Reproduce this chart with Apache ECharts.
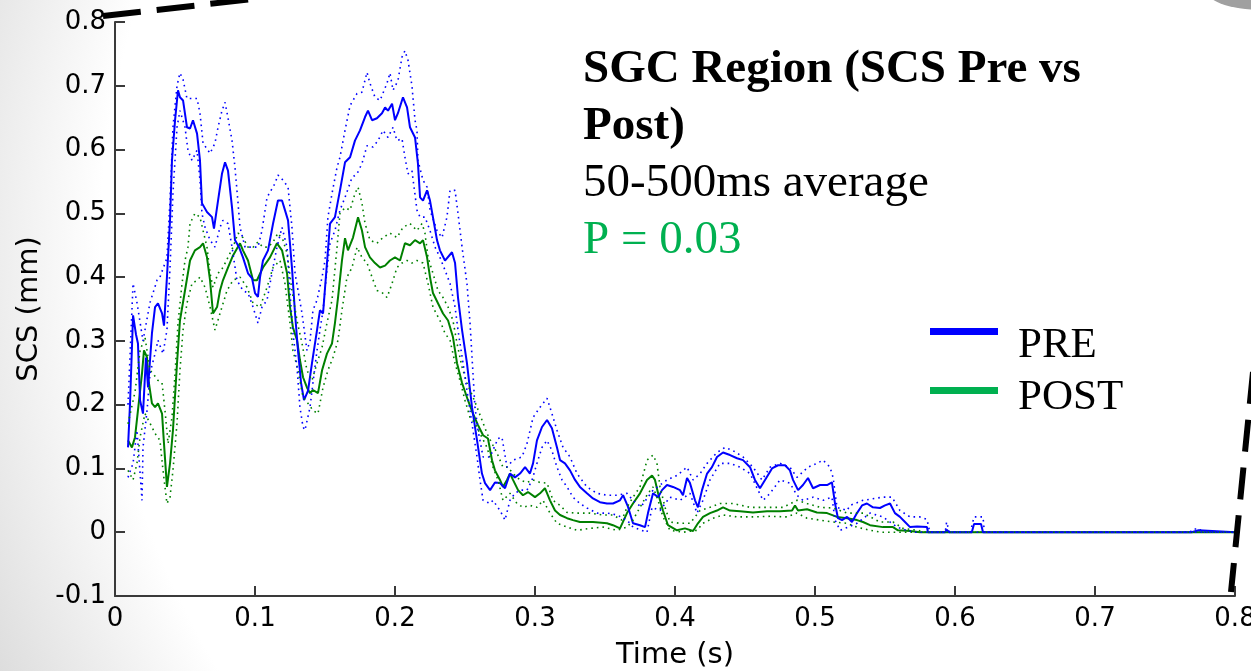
<!DOCTYPE html>
<html><head><meta charset="utf-8">
<script src="https://cdn.jsdelivr.net/npm/echarts@6/dist/echarts.min.js"></script>
<style>html,body{margin:0;padding:0;background:#fff}#c{width:1251px;height:671px}</style>
</head><body><div id="c"></div>
<script>
// ---- data: [time (s), SCS (mm)] ----
const preMean = [[0.0093,0.133],[0.0107,0.20],[0.0129,0.34],[0.015,0.31],[0.0164,0.296],[0.0179,0.207],[0.020,0.186],[0.0221,0.274],[0.0236,0.227],[0.0264,0.312],[0.0286,0.353],[0.0307,0.359],[0.0336,0.343],[0.035,0.324],[0.0371,0.40],[0.0393,0.489],[0.0407,0.583],[0.0429,0.646],[0.045,0.693],[0.0464,0.682],[0.0486,0.677],[0.0514,0.635],[0.0536,0.633],[0.0557,0.646],[0.0586,0.625],[0.0607,0.583],[0.0621,0.516],[0.0657,0.502],[0.0693,0.494],[0.0707,0.476],[0.0736,0.52],[0.0764,0.562],[0.0786,0.58],[0.0807,0.567],[0.0836,0.509],[0.0857,0.458],[0.0886,0.447],[0.0914,0.431],[0.095,0.406],[0.0979,0.398],[0.1,0.375],[0.1021,0.369],[0.1036,0.40],[0.1057,0.426],[0.1093,0.442],[0.1129,0.484],[0.1164,0.52],[0.1193,0.52],[0.1214,0.505],[0.1236,0.489],[0.1264,0.415],[0.1286,0.343],[0.1307,0.285],[0.1329,0.234],[0.135,0.207],[0.1379,0.222],[0.1407,0.265],[0.1443,0.317],[0.1464,0.348],[0.1486,0.343],[0.1514,0.422],[0.1536,0.484],[0.1571,0.494],[0.1607,0.536],[0.1643,0.58],[0.1679,0.588],[0.1714,0.614],[0.175,0.63],[0.1786,0.651],[0.1807,0.661],[0.1836,0.646],[0.1871,0.649],[0.1907,0.657],[0.1929,0.666],[0.195,0.661],[0.1979,0.672],[0.2,0.646],[0.2021,0.657],[0.2057,0.682],[0.2086,0.666],[0.2107,0.635],[0.2143,0.619],[0.2164,0.578],[0.2179,0.525],[0.22,0.52],[0.2229,0.536],[0.225,0.52],[0.2271,0.494],[0.23,0.458],[0.2321,0.442],[0.2357,0.426],[0.2407,0.439],[0.2429,0.422],[0.245,0.368],[0.2479,0.317],[0.2514,0.265],[0.255,0.196],[0.2586,0.144],[0.2621,0.092],[0.2643,0.077],[0.2679,0.066],[0.2714,0.078],[0.275,0.077],[0.2786,0.069],[0.2821,0.092],[0.2857,0.086],[0.2893,0.092],[0.2929,0.102],[0.2964,0.092],[0.2986,0.108],[0.3014,0.144],[0.305,0.165],[0.3086,0.176],[0.3121,0.163],[0.3157,0.133],[0.3179,0.113],[0.3214,0.108],[0.325,0.097],[0.3286,0.082],[0.3321,0.071],[0.3371,0.061],[0.3414,0.053],[0.3464,0.047],[0.3514,0.045],[0.3557,0.045],[0.3607,0.05],[0.3629,0.058],[0.3664,0.04],[0.37,0.014],[0.375,0.011],[0.3786,0.008],[0.3807,0.03],[0.3843,0.061],[0.3879,0.055],[0.3907,0.066],[0.3943,0.074],[0.3986,0.071],[0.4036,0.066],[0.4057,0.058],[0.4086,0.085],[0.4107,0.077],[0.4143,0.05],[0.4164,0.039],[0.4193,0.066],[0.4229,0.092],[0.4264,0.102],[0.43,0.118],[0.4343,0.125],[0.4393,0.121],[0.4443,0.116],[0.4486,0.113],[0.4536,0.102],[0.4571,0.082],[0.4607,0.069],[0.4643,0.082],[0.4693,0.1],[0.4736,0.105],[0.4786,0.105],[0.4821,0.097],[0.4843,0.082],[0.4879,0.066],[0.4914,0.074],[0.495,0.085],[0.4986,0.069],[0.5036,0.074],[0.5086,0.074],[0.5121,0.078],[0.5143,0.045],[0.5164,0.022],[0.5193,0.019],[0.5229,0.024],[0.5264,0.016],[0.53,0.03],[0.5336,0.042],[0.5371,0.045],[0.5414,0.039],[0.5464,0.038],[0.55,0.042],[0.5536,0.045],[0.5571,0.03],[0.5607,0.024],[0.5643,0.016],[0.5679,0.008],[0.5729,0.009],[0.58,0.008],[0.5807,0],[0.593,0],[0.594,0.004],[0.596,0],[0.612,0],[0.6136,0.013],[0.6186,0.013],[0.62,0],[0.769,0],[0.77,0.003],[0.774,0.003],[0.775,0],[0.8,0]];

const preUpper = [[0.0093,0.20],[0.0129,0.39],[0.0157,0.36],[0.02,0.30],[0.025,0.36],[0.03,0.395],[0.0321,0.40],[0.0371,0.43],[0.0393,0.52],[0.0414,0.635],[0.0443,0.70],[0.0464,0.72],[0.0486,0.71],[0.0514,0.68],[0.0557,0.68],[0.0586,0.68],[0.0607,0.657],[0.0629,0.61],[0.0679,0.594],[0.0714,0.61],[0.0736,0.635],[0.0764,0.661],[0.0786,0.674],[0.0807,0.65],[0.0836,0.614],[0.0857,0.572],[0.0879,0.516],[0.0893,0.478],[0.0929,0.447],[0.0979,0.447],[0.1021,0.447],[0.105,0.473],[0.1086,0.525],[0.1107,0.533],[0.1143,0.547],[0.1164,0.56],[0.12,0.552],[0.1236,0.541],[0.1264,0.478],[0.1286,0.406],[0.1336,0.343],[0.1371,0.285],[0.1393,0.30],[0.1414,0.348],[0.1443,0.364],[0.1479,0.40],[0.15,0.426],[0.1521,0.494],[0.155,0.531],[0.1586,0.572],[0.1607,0.588],[0.1643,0.63],[0.1679,0.669],[0.1729,0.688],[0.1764,0.69],[0.18,0.721],[0.1821,0.704],[0.1857,0.682],[0.1893,0.677],[0.1943,0.704],[0.1964,0.72],[0.1986,0.693],[0.2021,0.708],[0.205,0.745],[0.2071,0.755],[0.2093,0.74],[0.2121,0.70],[0.2143,0.646],[0.2157,0.63],[0.2164,0.583],[0.22,0.552],[0.2229,0.541],[0.225,0.505],[0.23,0.473],[0.2336,0.462],[0.2371,0.494],[0.2393,0.536],[0.2429,0.536],[0.245,0.50],[0.2479,0.447],[0.2514,0.39],[0.2536,0.328],[0.2557,0.249],[0.2571,0.196],[0.2593,0.16],[0.2629,0.118],[0.2679,0.118],[0.2736,0.147],[0.2764,0.149],[0.28,0.102],[0.2843,0.113],[0.2907,0.118],[0.2943,0.139],[0.2986,0.18],[0.3036,0.196],[0.3086,0.21],[0.3121,0.186],[0.3157,0.16],[0.32,0.133],[0.325,0.118],[0.33,0.092],[0.3371,0.071],[0.3443,0.061],[0.3514,0.058],[0.3586,0.058],[0.3657,0.061],[0.37,0.05],[0.3757,0.04],[0.3843,0.066],[0.3943,0.082],[0.4014,0.089],[0.4086,0.102],[0.4129,0.082],[0.4179,0.092],[0.4229,0.108],[0.43,0.125],[0.4357,0.133],[0.4414,0.128],[0.4486,0.118],[0.4557,0.102],[0.4621,0.082],[0.4679,0.102],[0.475,0.108],[0.4821,0.102],[0.4871,0.086],[0.495,0.102],[0.5014,0.108],[0.5057,0.113],[0.5107,0.102],[0.5129,0.086],[0.5157,0.039],[0.5229,0.034],[0.525,0.042],[0.5343,0.05],[0.5486,0.055],[0.555,0.055],[0.5607,0.034],[0.5679,0.024],[0.575,0.024],[0.58,0.02],[0.582,0],[0.593,0],[0.594,0.016],[0.596,0],[0.611,0],[0.6136,0.024],[0.62,0.024],[0.621,0],[0.768,0],[0.77,0.005],[0.775,0.005],[0.776,0],[0.8,0]];

const preLower = [[0.0093,0.086],[0.0129,0.108],[0.0157,0.16],[0.0193,0.05],[0.02,0.133],[0.0229,0.191],[0.025,0.249],[0.0286,0.28],[0.0307,0.301],[0.0343,0.28],[0.0371,0.317],[0.0393,0.415],[0.0414,0.531],[0.0443,0.635],[0.0464,0.661],[0.05,0.635],[0.0521,0.599],[0.055,0.583],[0.0586,0.599],[0.0607,0.552],[0.0621,0.50],[0.0643,0.478],[0.0679,0.458],[0.0714,0.447],[0.075,0.478],[0.0771,0.489],[0.0807,0.484],[0.0836,0.447],[0.0871,0.395],[0.0914,0.379],[0.095,0.375],[0.0986,0.353],[0.1021,0.328],[0.105,0.353],[0.1086,0.364],[0.1121,0.406],[0.1157,0.447],[0.1193,0.478],[0.1229,0.447],[0.125,0.375],[0.1271,0.312],[0.13,0.259],[0.1321,0.196],[0.1343,0.165],[0.1357,0.16],[0.1393,0.196],[0.1414,0.234],[0.1443,0.285],[0.1464,0.317],[0.1486,0.348],[0.1514,0.411],[0.1536,0.453],[0.1571,0.473],[0.1607,0.505],[0.1643,0.525],[0.1693,0.556],[0.1729,0.562],[0.1764,0.578],[0.18,0.606],[0.1843,0.604],[0.1879,0.614],[0.1914,0.63],[0.195,0.619],[0.1986,0.635],[0.2014,0.614],[0.205,0.617],[0.2071,0.588],[0.2093,0.562],[0.2121,0.567],[0.2157,0.505],[0.2179,0.494],[0.2214,0.494],[0.225,0.473],[0.2286,0.447],[0.2321,0.431],[0.2357,0.411],[0.2393,0.39],[0.2429,0.353],[0.245,0.317],[0.2486,0.265],[0.2521,0.212],[0.2557,0.16],[0.2586,0.118],[0.2607,0.082],[0.2629,0.05],[0.2679,0.045],[0.27,0.05],[0.275,0.034],[0.2786,0.019],[0.2821,0.05],[0.2857,0.061],[0.2893,0.066],[0.2943,0.066],[0.2979,0.082],[0.3014,0.108],[0.305,0.133],[0.3086,0.144],[0.3121,0.128],[0.3157,0.102],[0.3193,0.082],[0.3229,0.071],[0.3271,0.055],[0.3321,0.045],[0.3371,0.038],[0.3443,0.03],[0.3514,0.03],[0.3586,0.027],[0.3657,0.019],[0.37,0.008],[0.38,0.0],[0.3836,0.039],[0.3893,0.034],[0.3964,0.055],[0.4036,0.05],[0.4107,0.061],[0.4157,0.03],[0.42,0.05],[0.425,0.082],[0.4321,0.108],[0.4393,0.108],[0.4464,0.102],[0.4536,0.092],[0.4593,0.066],[0.4629,0.05],[0.4679,0.061],[0.475,0.082],[0.4821,0.077],[0.4871,0.058],[0.4914,0.05],[0.4986,0.055],[0.5057,0.05],[0.5121,0.055],[0.5143,0.019],[0.5179,0.003],[0.5236,0.008],[0.53,0.014],[0.5393,0.03],[0.5486,0.024],[0.5586,0.008],[0.57,0],[0.8,0]];

const postMean = [[0.0093,0.144],[0.0121,0.133],[0.0143,0.149],[0.0164,0.191],[0.0193,0.249],[0.0207,0.285],[0.0229,0.274],[0.0236,0.243],[0.0264,0.202],[0.0286,0.196],[0.0307,0.202],[0.0336,0.186],[0.035,0.139],[0.0371,0.071],[0.0393,0.108],[0.0414,0.16],[0.0443,0.265],[0.0464,0.332],[0.05,0.379],[0.0536,0.426],[0.0571,0.442],[0.0607,0.447],[0.0629,0.453],[0.0657,0.431],[0.0679,0.395],[0.07,0.343],[0.0729,0.353],[0.075,0.379],[0.0771,0.395],[0.0807,0.415],[0.0843,0.434],[0.0893,0.453],[0.0914,0.442],[0.095,0.426],[0.0986,0.395],[0.1014,0.395],[0.1057,0.415],[0.1107,0.431],[0.1157,0.453],[0.1193,0.442],[0.1229,0.406],[0.125,0.353],[0.1271,0.321],[0.13,0.301],[0.1321,0.27],[0.1343,0.243],[0.1371,0.227],[0.1393,0.218],[0.1414,0.223],[0.145,0.218],[0.1479,0.254],[0.1514,0.28],[0.155,0.296],[0.1571,0.328],[0.1593,0.368],[0.1621,0.426],[0.1643,0.461],[0.1664,0.442],[0.17,0.462],[0.1736,0.494],[0.1764,0.473],[0.1786,0.447],[0.1821,0.431],[0.1857,0.422],[0.1893,0.415],[0.1929,0.418],[0.1964,0.426],[0.2,0.431],[0.2036,0.426],[0.2071,0.453],[0.2107,0.45],[0.2143,0.458],[0.2179,0.453],[0.22,0.458],[0.2229,0.431],[0.225,0.40],[0.2271,0.375],[0.2307,0.359],[0.2343,0.343],[0.2379,0.332],[0.2414,0.306],[0.2443,0.265],[0.2479,0.234],[0.2521,0.207],[0.2557,0.186],[0.2593,0.168],[0.2629,0.152],[0.2664,0.147],[0.2693,0.113],[0.2714,0.097],[0.275,0.082],[0.2771,0.071],[0.28,0.082],[0.2821,0.092],[0.2843,0.082],[0.2879,0.066],[0.2914,0.058],[0.295,0.063],[0.30,0.055],[0.3036,0.061],[0.3071,0.069],[0.3107,0.05],[0.3143,0.034],[0.3179,0.027],[0.3229,0.022],[0.3271,0.019],[0.3321,0.016],[0.3414,0.016],[0.3514,0.014],[0.3557,0.011],[0.3607,0.006],[0.3657,0.03],[0.37,0.045],[0.375,0.061],[0.38,0.082],[0.3836,0.089],[0.3857,0.082],[0.3879,0.061],[0.3914,0.034],[0.395,0.011],[0.4014,0.003],[0.4071,0.006],[0.4129,0.002],[0.4164,0.014],[0.42,0.024],[0.425,0.03],[0.43,0.034],[0.4343,0.039],[0.4393,0.034],[0.4464,0.033],[0.4557,0.031],[0.4657,0.033],[0.475,0.033],[0.4836,0.034],[0.4857,0.042],[0.4879,0.034],[0.4943,0.036],[0.5014,0.031],[0.5086,0.03],[0.5157,0.024],[0.5229,0.022],[0.53,0.019],[0.5343,0.016],[0.5393,0.011],[0.5486,0.008],[0.5557,0.008],[0.5593,0.003],[0.5679,0.002],[0.575,0],[0.7,0],[0.701,0.002],[0.703,0],[0.8,0]];

const postUpper = [[0.0093,0.17],[0.0143,0.22],[0.0179,0.285],[0.0214,0.306],[0.025,0.254],[0.0271,0.249],[0.0307,0.238],[0.0336,0.234],[0.0357,0.191],[0.0379,0.139],[0.0407,0.18],[0.0429,0.249],[0.045,0.328],[0.0479,0.39],[0.05,0.426],[0.0521,0.447],[0.0536,0.484],[0.0571,0.50],[0.0607,0.494],[0.0629,0.473],[0.0657,0.447],[0.0679,0.406],[0.07,0.384],[0.0736,0.406],[0.0771,0.415],[0.0807,0.431],[0.0843,0.447],[0.0879,0.469],[0.0914,0.462],[0.095,0.447],[0.0986,0.447],[0.1021,0.455],[0.1057,0.447],[0.1093,0.447],[0.1129,0.455],[0.1164,0.469],[0.12,0.458],[0.1229,0.437],[0.1264,0.379],[0.13,0.332],[0.1336,0.296],[0.1371,0.254],[0.1407,0.238],[0.1443,0.265],[0.1479,0.29],[0.1514,0.328],[0.155,0.364],[0.1586,0.447],[0.1607,0.50],[0.1643,0.509],[0.1679,0.505],[0.1714,0.531],[0.1736,0.541],[0.1764,0.516],[0.1786,0.484],[0.1821,0.458],[0.1871,0.453],[0.1914,0.462],[0.1964,0.469],[0.2014,0.462],[0.2057,0.478],[0.2107,0.484],[0.2157,0.473],[0.2193,0.484],[0.2214,0.469],[0.2236,0.431],[0.2271,0.406],[0.2307,0.379],[0.2343,0.368],[0.2379,0.353],[0.2414,0.332],[0.2443,0.296],[0.2479,0.259],[0.2514,0.234],[0.2557,0.212],[0.2586,0.196],[0.2621,0.176],[0.2657,0.155],[0.2693,0.139],[0.2729,0.124],[0.2771,0.102],[0.2807,0.102],[0.2843,0.092],[0.2893,0.082],[0.2943,0.078],[0.2986,0.082],[0.3036,0.078],[0.3086,0.077],[0.3129,0.05],[0.3179,0.042],[0.3229,0.031],[0.33,0.03],[0.3393,0.03],[0.3486,0.027],[0.3557,0.027],[0.3621,0.019],[0.3657,0.039],[0.37,0.055],[0.375,0.071],[0.38,0.113],[0.3843,0.121],[0.3871,0.108],[0.3893,0.071],[0.3929,0.039],[0.3964,0.016],[0.4036,0.014],[0.4107,0.014],[0.4179,0.034],[0.425,0.039],[0.4321,0.045],[0.4414,0.045],[0.4536,0.039],[0.4657,0.039],[0.4771,0.039],[0.4871,0.05],[0.4943,0.045],[0.5036,0.039],[0.5129,0.038],[0.5229,0.03],[0.5343,0.03],[0.5464,0.016],[0.5557,0.016],[0.5629,0.006],[0.5729,0.003],[0.58,0],[0.8,0]];

const postLower = [[0.0093,0.097],[0.0129,0.082],[0.0157,0.108],[0.0179,0.149],[0.0214,0.186],[0.025,0.171],[0.0286,0.155],[0.0321,0.144],[0.0343,0.097],[0.0371,0.045],[0.0393,0.055],[0.0414,0.097],[0.0443,0.171],[0.0464,0.254],[0.0486,0.317],[0.0514,0.359],[0.055,0.39],[0.0586,0.395],[0.0607,0.40],[0.0643,0.384],[0.0679,0.353],[0.0714,0.317],[0.075,0.343],[0.08,0.379],[0.0843,0.395],[0.0893,0.40],[0.0943,0.384],[0.0986,0.359],[0.1036,0.353],[0.1086,0.384],[0.1129,0.415],[0.1179,0.426],[0.1214,0.39],[0.125,0.328],[0.1271,0.285],[0.1307,0.254],[0.1343,0.212],[0.1379,0.202],[0.1414,0.191],[0.145,0.186],[0.1486,0.227],[0.1521,0.254],[0.1557,0.274],[0.1593,0.301],[0.1621,0.348],[0.1657,0.40],[0.1693,0.415],[0.1729,0.447],[0.1764,0.431],[0.18,0.422],[0.1836,0.40],[0.1871,0.379],[0.1907,0.376],[0.1943,0.368],[0.1979,0.39],[0.2014,0.415],[0.205,0.422],[0.2086,0.426],[0.2121,0.422],[0.2157,0.426],[0.22,0.422],[0.2236,0.39],[0.2271,0.353],[0.2321,0.332],[0.2357,0.312],[0.2393,0.301],[0.2429,0.265],[0.2464,0.238],[0.25,0.207],[0.2536,0.18],[0.2571,0.171],[0.2607,0.155],[0.2657,0.133],[0.27,0.102],[0.2736,0.082],[0.2771,0.05],[0.2821,0.061],[0.2871,0.045],[0.2914,0.039],[0.2964,0.042],[0.3014,0.039],[0.3057,0.05],[0.3107,0.03],[0.3157,0.014],[0.3229,0.008],[0.33,0.003],[0.3393,0.006],[0.3486,0.008],[0.3586,0.003],[0.3657,0.008],[0.37,0.019],[0.375,0.039],[0.3807,0.061],[0.3843,0.071],[0.3879,0.05],[0.3914,0.024],[0.3964,0.003],[0.4057,0],[0.4157,0.003],[0.42,0.014],[0.4271,0.022],[0.4343,0.027],[0.4443,0.024],[0.4557,0.024],[0.4679,0.025],[0.48,0.024],[0.4871,0.03],[0.4943,0.022],[0.5036,0.019],[0.5129,0.016],[0.5229,0.014],[0.53,0.008],[0.5393,0.003],[0.547,0],[0.8,0]];

const xRange = [0, 0.8];
const yRange = [-0.1, 0.8];
const tickStep = 0.1;
const legendNames = ['PRE', 'POST'];
const titleLines = ['SGC Region (SCS Pre vs', 'Post)', '50-500ms average', 'P = 0.03'];

// ---- chart ----
const BLUE = '#0000ff', GREEN = '#008000', LEG_GREEN = '#00b050', AX = '#3a3a3a';
const chart = echarts.init(document.getElementById('c'), null, {renderer: 'canvas'});
const fmt = v => String(Math.round(v * 10) / 10);
function meanSeries(name, data, color) {
  return {name, type: 'line', data, showSymbol: false, symbol: 'none', z: 3,
    lineStyle: {color, width: 2}, itemStyle: {color}};
}
function boundSeries(name, data, color) {
  return {name, type: 'line', data, showSymbol: false, symbol: 'none', z: 4,
    lineStyle: {color, width: 1.6, type: [1.6, 4]}, itemStyle: {color}};
}
const axisFont = {fontFamily: 'DejaVu Sans', fontSize: 26, color: '#000'};
const serif = 'Liberation Serif';
chart.setOption({
  animation: false,
  grid: {left: 115, right: 16, top: 22, bottom: 75, containLabel: false, outerBoundsMode: 'none'},
  title: {
    left: 578, top: 36,
    text: '{b|' + titleLines[0] + '}\n{b|' + titleLines[1] + '}\n{n|' + titleLines[2] + '}\n{g|' + titleLines[3] + '}',
    textStyle: {fontWeight: 'normal', rich: {
      b: {fontFamily: serif, fontWeight: 'bold', fontSize: 47, lineHeight: 57, color: '#000'},
      n: {fontFamily: serif, fontWeight: 'normal', fontSize: 47, lineHeight: 57, color: '#000'},
      g: {fontFamily: serif, fontWeight: 'normal', fontSize: 47, lineHeight: 57, color: LEG_GREEN}
    }}
  },
  xAxis: {
    type: 'value', min: xRange[0], max: xRange[1], interval: tickStep,
    name: 'Time (s)', nameLocation: 'middle', nameGap: 45,
    nameTextStyle: {fontFamily: 'DejaVu Sans', fontSize: 29, color: '#000'},
    axisLine: {show: true, onZero: false, lineStyle: {color: AX, width: 2}},
    axisTick: {show: true, inside: true, length: 10, lineStyle: {color: AX, width: 2}},
    axisLabel: Object.assign({margin: 10, formatter: fmt}, axisFont),
    splitLine: {show: false}
  },
  yAxis: {
    type: 'value', min: yRange[0], max: yRange[1], interval: tickStep,
    name: 'SCS (mm)', nameLocation: 'middle', nameGap: 68, nameRotate: 90,
    nameTextStyle: {fontFamily: 'DejaVu Sans', fontSize: 29, color: '#000'},
    axisLine: {show: true, onZero: false, lineStyle: {color: AX, width: 2}},
    axisTick: {show: true, inside: true, length: 10, lineStyle: {color: AX, width: 2}},
    axisLabel: Object.assign({margin: 9, formatter: fmt}, axisFont),
    splitLine: {show: false}
  },
  series: [
    meanSeries('POST', postMean, GREEN),
    meanSeries('PRE', preMean, BLUE),
    boundSeries('POST upper', postUpper, GREEN),
    boundSeries('POST lower', postLower, GREEN),
    boundSeries('PRE upper', preUpper, BLUE),
    boundSeries('PRE lower', preLower, BLUE)
  ],
  graphic: [
    {type: 'rect', z: -100, silent: true, shape: {x: 0, y: 0, width: 1251, height: 671},
      style: {fill: {type: 'radial', x: 900, y: 250, r: 1000, global: true,
        colorStops: [{offset: 0, color: '#ffffff'}, {offset: 0.8, color: '#ffffff'}, {offset: 1, color: '#dcdcdc'}]}}},
    {type: 'ellipse', z: -90, silent: true, shape: {cx: 1262, cy: -10, rx: 56, ry: 20},
      style: {fill: '#a0a0a0'}},
    {type: 'line', z: 10, silent: true, shape: {x1: 103, y1: 16, x2: 262, y2: -2},
      style: {stroke: '#000', lineWidth: 6, lineDash: [38, 16]}},
    {type: 'line', z: 10, silent: true, shape: {x1: 1253, y1: 372, x2: 1231, y2: 592},
      style: {stroke: '#000', lineWidth: 6, lineDash: [32, 16]}},
    {type: 'rect', z: 20, silent: true, shape: {x: 930, y: 328, width: 68, height: 7}, style: {fill: BLUE}},
    {type: 'rect', z: 20, silent: true, shape: {x: 930, y: 387, width: 68, height: 7}, style: {fill: LEG_GREEN}},
    {type: 'text', z: 20, silent: true, style: {x: 1018, y: 346, text: legendNames[0], verticalAlign: 'middle',
      font: '43px "Liberation Serif"', fill: '#000'}},
    {type: 'text', z: 20, silent: true, style: {x: 1018, y: 398, text: legendNames[1], verticalAlign: 'middle',
      font: '43px "Liberation Serif"', fill: '#000'}}
  ]
});
</script></body></html>
